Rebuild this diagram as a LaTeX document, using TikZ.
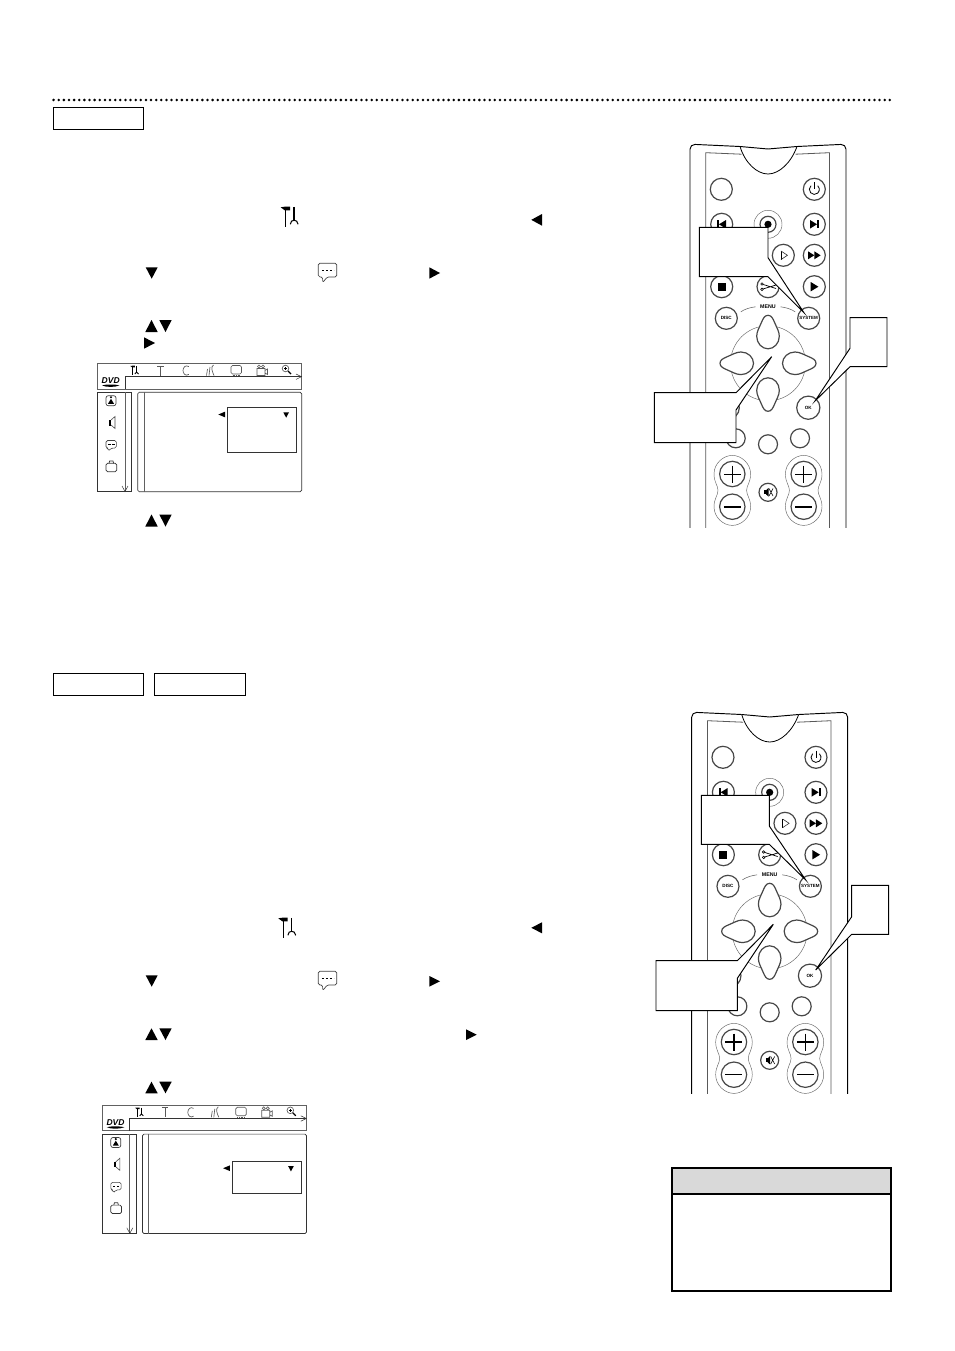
\documentclass[tikz,border=0pt]{standalone}
\usepackage{fontspec}
\setmainfont{Liberation Sans}
\tikzset{
  btn/.style={draw=black!72,line width=1.2pt,fill=white},
  thinl/.style={draw=black!60,line width=0.45pt},
  bodyl/.style={draw=black,line width=0.95pt},
  framel/.style={draw=black!65,line width=0.8pt},
  callout/.style={draw=black,fill=white,line width=0.95pt,line join=miter},
  labelbox/.style={draw=black,line width=0.9pt},
  solidtri/.style={fill=black,draw=none},
  scr/.style={draw=black!62,line width=0.75pt},
  scrd/.style={draw=black!80,line width=0.7pt},
  ico/.style={draw=black!65,line width=0.65pt},
  lab/.style={inner sep=0pt,font=\fontsize{4.6}{5}\selectfont\bfseries}
}
% triangles: x1 x2 y1 y2
\newcommand\trileft[4]{\fill[solidtri] (#2,#3) -- (#2,#4) -- (#1,{(#3+#4)/2}) -- cycle;}
\newcommand\triright[4]{\fill[solidtri] (#1,#3) -- (#1,#4) -- (#2,{(#3+#4)/2}) -- cycle;}
\newcommand\tridown[4]{\fill[solidtri] (#1,#3) -- (#2,#3) -- ({(#1+#2)/2},#4) -- cycle;}
\newcommand\triup[4]{\fill[solidtri] (#1,#4) -- (#2,#4) -- ({(#1+#2)/2},#3) -- cycle;}
% tool icon: x y scale thickness
\newcommand\toolicon[4]{\begin{scope}[shift={(#1,#2)},scale=#3]
  \draw[black,line width=#4] (0,0) -- (0,19.4);
  \fill[black] (-5,0) -- (-1,-0.6) -- (4.4,-0.6) -- (4.4,3) -- (-1,3) -- cycle;
  \draw[black,line width=#4*1.7] (8.4,-0.4) -- (8.4,12.5);
  \draw[black,line width=#4*1.3] (4.6,17) .. controls (4.8,14) and (6.5,13) .. (8.4,13) .. controls (10.3,13) and (12,14) .. (12.4,17);
\end{scope}}
% bubble: x y scale lw
\newcommand\bubble[4]{\begin{scope}[shift={(#1,#2)},scale=#3]
  \draw[black!75,line width=#4,fill=white,rounded corners=1.6pt] (0,0) -- (18.4,0) -- (18.4,13.6) -- (9,13.6) -- (4.3,19.4) -- (4.3,13.6) -- (0,13.6) -- cycle;
  \draw[black,line width=0.5pt,dash pattern=on 2.6pt off 1.4pt] (3.5,7.4) -- (15.5,7.4);
\end{scope}}
% a petal of the menu cross
\newcommand\petal[1]{\begin{scope}[shift={(768,363.3)},rotate=#1]
  \draw[btn] (0,48) .. controls (3.5,48) and (5,44.5) .. (6.5,41) .. controls (8.5,36) and (11.3,32) .. (11.3,27)
    .. controls (11.3,20) and (6,14.5) .. (0,14.5) .. controls (-6,14.5) and (-11.3,20) .. (-11.3,27)
    .. controls (-11.3,32) and (-8.5,36) .. (-6.5,41) .. controls (-5,44.5) and (-3.5,48) .. (0,48) -- cycle;
\end{scope}}
% peanut surround of the volume keys
\newcommand\peanut[1]{\begin{scope}[shift={(#1,490.4)}]
  \draw[thinl] (-18.3,-16.4) .. controls (-18.3,-27) and (-9,-35) .. (0,-35) .. controls (9,-35) and (18.3,-27) .. (18.3,-16.4)
    .. controls (18.3,-8) and (14.3,-5) .. (14.3,0) .. controls (14.3,5) and (18.3,8) .. (18.3,16.4)
    .. controls (18.3,27) and (9,35) .. (0,35) .. controls (-9,35) and (-18.3,27) .. (-18.3,16.4)
    .. controls (-18.3,8) and (-14.3,5) .. (-14.3,0) .. controls (-14.3,-5) and (-18.3,-8) .. (-18.3,-16.4) -- cycle;
\end{scope}}
% remote: dx dy cliprel pluslw minuslw
\newcommand\remote[5]{\begin{scope}[shift={(#1,#2)}]
 \begin{scope}
  \clip (680,130) rectangle (860,#3);
  \draw[bodyl,rounded corners=5pt] (690,540) -- (690,144.2) -- (740,146.5);
  \draw[bodyl] (740,146.5) -- (768,149) -- (797,146.5);
  \draw[bodyl,rounded corners=5pt] (797,146.5) -- (846,144.2) -- (846,540);
  \draw[framel] (705.8,540) -- (705.8,152.7) -- (741.5,154.2);
  \draw[framel] (795.5,154.2) -- (829.4,152.7) -- (829.4,540);
  \draw[draw=black,line width=0.8pt] (740,146.5) .. controls (745,163) and (757,174) .. (768,174) .. controls (779,174) and (791,163) .. (797,146.5);
  % top rows
  \draw[btn] (721.3,189.3) circle (11);
  \draw[btn] (814.3,189.3) circle (11);
  \draw[black,line width=0.8pt] (811,185.7) arc[start angle=228,end angle=-48,radius=5];
  \draw[black,line width=0.8pt] (814.3,182.5) -- (814.3,189.5);
  \draw[btn] (721.7,224.3) circle (11);
  \fill (717.4,220.3) rectangle (719,228.3);
  \fill (719,224.3) -- (726,220) -- (726,228.6) -- cycle;
  \draw[thinl] (768,224.3) circle (14);
  \draw[btn] (768,224.3) circle (8);
  \fill (768,224.3) circle (3.6);
  \draw[btn] (814.3,224.3) circle (11);
  \fill (810,220) -- (817,224.3) -- (810,228.6) -- cycle;
  \fill (817.4,220.3) rectangle (819,228.3);
  \draw[btn] (783.3,255.3) circle (11);
  \draw[black,line width=1pt] (781,251) -- (781,259.6);
  \draw[black!80,line width=0.6pt] (781,251) -- (787.4,255.3) -- (781,259.6);
  \draw[btn] (814.3,255.3) circle (11);
  \fill (808,251.3) -- (814.3,255.3) -- (808,259.3) -- cycle;
  \fill (814.3,251.3) -- (820.6,255.3) -- (814.3,259.3) -- cycle;
  \draw[btn] (721.7,286.7) circle (11);
  \fill (717.6,282.6) rectangle (725.8,290.8);
  \draw[btn] (768,286.7) circle (11);
  \draw[black,line width=0.7pt] (761,283.8) -- (776,288.5) (761,289.6) -- (776,285);
  \draw[black,line width=0.6pt,fill=white] (762,284) circle (1.3) (762,289.4) circle (1.3);
  \draw[btn] (814.3,286.7) circle (11);
  \fill (810.7,282) -- (818.4,286.7) -- (810.7,291.4) -- cycle;
  % menu ring
  \draw[btn] (726.3,318.3) circle (11);
  \node[lab] (disc) at (726.3,318.3) {DISC};
  \draw[btn] (808.7,318.3) circle (11);
  \node[lab,font=\fontsize{4.5}{5}\selectfont\bfseries] (sys) at (808.7,318.3) {SYSTEM};
  \node[inner sep=0pt,font=\fontsize{5.3}{6}\selectfont\bfseries] (menu) at (768,306.7) {MENU};
  \draw[thinl,line width=0.55pt] (740.8,311.8) .. controls (745,309) and (750,307.5) .. (755.5,306.8);
  \draw[thinl,line width=0.55pt] (780.5,306.8) .. controls (786,307.5) and (791,309) .. (795.2,311.8);
  \draw[thinl] (768,363.3) circle (37.5);
  \petal{0}\petal{90}\petal{180}\petal{270}
  % lower buttons
  \draw[btn] (808.3,407.7) circle (11.6);
  \node[lab] (ok) at (808.3,407.7) {OK};
  \draw[btn] (727.7,407.7) circle (11.6);
  \draw[btn] (735.7,438.3) circle (9.5);
  \draw[btn] (768,444.3) circle (9.5);
  \draw[btn] (800,438.3) circle (9.5);
  \peanut{732.3}\peanut{803.7}
  \foreach \cx in {732.3,803.7}{
    \draw[btn] (\cx,474) circle (12.7);
    \draw[btn] (\cx,506.7) circle (12.7);
    \draw[black,line width=#4] (\cx-8.5,474) -- (\cx+8.5,474) (\cx,465.5) -- (\cx,482.5);
    \draw[black,line width=#5] (\cx-8.5,506.7) -- (\cx+8.5,506.7);
  }
  \draw[btn] (768,492.3) circle (9);
  \fill (764,490.3) rectangle (766,494.3);
  \fill (766,490.3) -- (768.5,488) -- (768.5,496.6) -- (766,494.3) -- cycle;
  \draw[black,line width=0.6pt] (769,488.5) -- (773,496) (769,496) -- (773,488.5);
 \end{scope}
\end{scope}}
% on-screen menu: dx dy boxtop boxbottom
\newcommand\screen[4]{\begin{scope}[shift={(#1,#2)}]
  \draw[scr] (97.3,389) -- (97.3,363.3) -- (301.7,363.3) -- (301.7,389) -- cycle;
  \draw[scrd] (125,389) -- (125,376.7) -- (301.5,376.7);
  \draw[scrd,line width=0.5pt] (296,374) -- (301.5,376.7) -- (296,379.4);
  \draw[scrd] (131.7,392.3) -- (97.3,392.3) -- (97.3,491.7) -- (131.7,491.7) -- cycle;
  \draw[scr] (125,392.3) -- (125,491.2);
  \draw[scrd,line width=0.5pt] (122,486) -- (125,491.5) -- (128,486);
  \draw[scrd,rounded corners=1.5pt] (137.7,491.7) -- (137.7,392.3) -- (301.7,392.3) -- (301.7,491.7) -- cycle;
  \draw[scr] (144,392.3) -- (144,491.7);
  \draw[scrd] (227.3,#3) rectangle (296.7,#4);
  \trileft{218.3}{225}{#3+4.4}{#3+10}
  \tridown{283.3}{289}{#3+5}{#3+10.4}
  % top icons
  \toolicon{132.7}{366}{0.47}{0.7pt}
  \draw[ico] (157,366) -- (163.6,366) (160.3,366) -- (160.3,375.5);
  \draw[ico] (188.8,366.6) .. controls (185.6,364.4) and (183,367.5) .. (183,370.5) .. controls (183,373.6) and (185.6,376.6) .. (188.8,374.4);
  \draw[ico] (207.5,369) -- (206.5,375.5) (210,367) -- (209,375.5) (213.5,365) .. controls (210.5,367) and (212,371) .. (214,375.5);
  \draw[ico,rounded corners=1.5pt] (231,365.5) rectangle (241.5,374);
  \draw[ico,dash pattern=on 1pt off 0.7pt] (232.5,375.3) -- (240,375.3);
  \draw[ico] (257,368.5) rectangle (265,375.5) (265,370.5) -- (267.5,369) -- (267.5,374.5) -- (265,373);
  \draw[ico] (259,366.5) circle (1.5) (263,366.5) circle (1.5);
  \draw[ico] (285.5,368.5) circle (3.3);
  \draw[black,line width=1.2pt] (288,371) -- (291,374);
  \draw[black,line width=0.4pt] (284,368.5) -- (287,368.5) (285.5,367) -- (285.5,370);
  % logo
  \node[inner sep=0pt,font=\fontsize{8.5}{9}\selectfont\bfseries\itshape] (dvd#2) at (110.7,381) {DVD};
  \fill (102,385.4) .. controls (106,384.2) and (115,384.2) .. (119.5,385.4) .. controls (115,387.4) and (106,387.4) .. (102,385.4) -- cycle;
  % side icons
  \draw[black!75,line width=0.7pt,rounded corners=2.2pt] (106,395.7) rectangle (116,405.7);
  \fill (111,397.2) circle (1.2);
  \fill (108,403.8) -- (111,398.8) -- (114,403.8) -- cycle;
  \fill (109,420) rectangle (111,425.5);
  \draw[black!70,line width=0.6pt] (111,420) -- (115,416.5) -- (115,428.5) -- (111,425);
  \bubble{106}{440.5}{0.56}{0.6pt}
  \draw[black!80,line width=0.7pt,rounded corners=1.5pt] (106,463.3) rectangle (116.7,471.7);
  \draw[black!80,line width=0.7pt] (109,463.3) -- (109.6,461) -- (113,461) -- (113.6,463.3);
\end{scope}}
\begin{document}
\begin{tikzpicture}[x=1pt,y=-1pt]
\useasboundingbox (0,0) rectangle (954,1351);
\fill[white] (0,0) rectangle (954,1351);
% dotted rule
\coordinate (ruleA) at (53.6,100);
\coordinate (ruleB) at (892,100);
\draw[black,line width=2.8pt,line cap=round,dash pattern=on 0pt off 5.13pt] (ruleA) -- (ruleB);
% label boxes
\draw[labelbox] (53.3,107.3) rectangle (143.7,129.3);
\draw[labelbox] (53.3,673.3) rectangle (143.7,695);
\draw[labelbox] (154.5,673.3) rectangle (245,695);
% upper column symbols
\toolicon{285.7}{207.3}{1}{0.8pt}
\trileft{531.3}{542}{214}{225.7}
\tridown{145.7}{157.7}{267.3}{278.7}
\bubble{318.3}{263.3}{1}{0.7pt}
\triright{429.3}{440}{267.3}{278.7}
\triup{145.3}{157.7}{320}{332}
\tridown{159.3}{171.7}{320}{332}
\triright{144}{155}{337.3}{348.7}
\triup{145.3}{157.7}{514.5}{526.5}
\tridown{159.3}{171.7}{514.5}{526.5}
% lower column symbols
\toolicon{283.3}{918.3}{1}{0.8pt}
\trileft{531.3}{542}{922.3}{933.3}
\tridown{145.7}{157.7}{975.3}{986.7}
\bubble{318.3}{971.3}{1}{0.7pt}
\triright{429.3}{440}{976}{986.7}
\triup{145.3}{157.7}{1028.3}{1040}
\tridown{159.3}{171.7}{1028.3}{1040}
\triright{466}{476.7}{1029.3}{1040}
\triup{145.3}{157.7}{1081.7}{1093.3}
\tridown{159.3}{171.7}{1081.7}{1093.3}
% screens
\screen{0}{0}{407.3}{452.3}
\screen{4.8}{741.8}{419.2}{451.5}
% remotes
\remote{0}{0}{527}{0.5pt}{1.6pt}
\remote{1.67}{568}{525.5}{1.3pt}{0.7pt}
% callouts, upper remote
\draw[callout] (768,227.3) -- (699.3,227.3) -- (699.3,276.7) -- (768,276.7) -- (803.8,312.5) -- (768,257.7) -- cycle;
\draw[callout] (736,392.7) -- (654.3,392.7) -- (654.3,442.7) -- (736,442.7) -- (736,410) -- (771.7,356.7) -- cycle;
\draw[callout] (850,317.7) -- (887,317.7) -- (887,366.7) -- (850,366.7) -- (815,401) -- (850,348.3) -- cycle;
% callouts, lower remote
\draw[callout] (769.3,795.3) -- (701.3,795.3) -- (701.3,844.3) -- (769.3,844.3) -- (805.7,880) -- (769.3,826) -- cycle;
\draw[callout] (737.3,960.7) -- (656,960.7) -- (656,1010.7) -- (737.3,1010.7) -- (737.3,978.3) -- (773.3,924.3) -- cycle;
\draw[callout] (851.7,885.3) -- (888.7,885.3) -- (888.7,934.3) -- (851.7,934.3) -- (815.7,970) -- (851.7,916.7) -- cycle;
% note box
\fill[black!15] (671.7,1168) rectangle (890.7,1193.7);
\draw[black,line width=1.7pt] (671.7,1168) rectangle (890.7,1290.7);
\draw[black,line width=1.7pt] (671.7,1193.7) -- (890.7,1193.7);
\end{tikzpicture}
\end{document}
